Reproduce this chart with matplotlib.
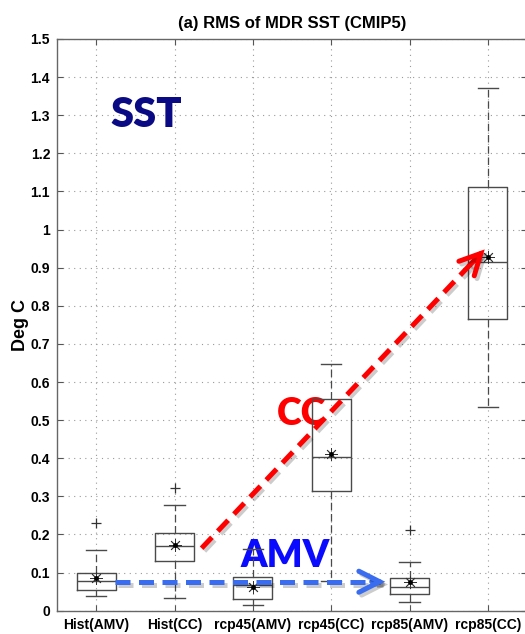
import matplotlib
matplotlib.use("Agg")
import matplotlib.pyplot as plt
import matplotlib.patheffects as pe
import numpy as np

# Ensemble RMS statistics of MDR SST per experiment (deg C)
labels = ['Hist(AMV)', 'Hist(CC)', 'rcp45(AMV)', 'rcp45(CC)', 'rcp85(AMV)', 'rcp85(CC)']
q1 = [0.053, 0.130, 0.032, 0.315, 0.044, 0.766]
medians = [0.077, 0.171, 0.068, 0.402, 0.063, 0.915]
q3 = [0.100, 0.205, 0.089, 0.556, 0.085, 1.112]
whisker_lo = [0.038, 0.033, 0.014, 0.077, 0.022, 0.534]
whisker_hi = [0.158, 0.277, 0.161, 0.648, 0.127, 1.372]
means = [0.087, 0.172, 0.063, 0.412, 0.074, 0.927]
outliers = [[0.230], [0.323], [], [], [0.211], []]

yticks = [0, 0.1, 0.2, 0.3, 0.4, 0.5, 0.6, 0.7, 0.8, 0.9, 1, 1.1, 1.2, 1.3, 1.4, 1.5]
ytick_labels = ['0', '0.1', '0.2', '0.3', '0.4', '0.5', '0.6', '0.7', '0.8', '0.9',
                '1', '1.1', '1.2', '1.3', '1.4', '1.5']

# Trend arrows (data coordinates: category position, deg C)
cc_arrow_start = (2.346, 0.164)
cc_arrow_end = (5.96, 0.948)
amv_arrow_start = (1.24, 0.076)
amv_arrow_end = (4.69, 0.076)

W, H = 525, 634
fig = plt.figure(figsize=(W / 100, H / 100), dpi=100)
fig.patch.set_facecolor('white')
ax = fig.add_axes([57 / W, (H - 610.7) / H, (527 - 57) / W, (610.7 - 39) / H])

positions = np.arange(1, len(labels) + 1)
stats = []
for i, lab in enumerate(labels):
    stats.append(dict(label=lab, q1=q1[i], med=medians[i], q3=q3[i],
                      whislo=whisker_lo[i], whishi=whisker_hi[i],
                      mean=means[i], fliers=outliers[i]))

edge = '#4a4a4a'
ax.bxp(stats, positions=positions, widths=0.5, capwidths=0.26,
       showmeans=True, patch_artist=False,
       boxprops=dict(color=edge, linewidth=1.0),
       medianprops=dict(color=edge, linewidth=1.0),
       whiskerprops=dict(color=edge, linewidth=0.9, linestyle=(0, (6, 3))),
       capprops=dict(color=edge, linewidth=1.0),
       flierprops=dict(marker='+', markeredgecolor='#333333', markersize=7,
                       markeredgewidth=0.9, linestyle='none'),
       meanprops=dict(marker=(8, 2, 0), markersize=9, markeredgecolor='#333333',
                      markerfacecolor='#333333', markeredgewidth=0.6, linestyle='none'),
       manage_ticks=False, zorder=2)
ax.plot(positions, means, linestyle='none', marker='o', markersize=2.5,
        color='black', zorder=2.1)

ax.set_xlim(0.5, 6.5)
ax.set_ylim(0, 1.5)
ax.set_xticks(positions)
ax.set_xticklabels(labels)
ax.set_yticks(yticks)
ax.set_yticklabels(ytick_labels)

for t in ax.get_xticklabels() + ax.get_yticklabels():
    t.set_fontfamily('Liberation Sans')
    t.set_fontweight('bold')
    t.set_fontsize(10)

ax.tick_params(axis='both', direction='in', length=4, width=0.8, color='#555555',
               top=True, right=True, pad=5)
ax.grid(True, color='#9a9a9a', linewidth=0.8, linestyle=(0, (1, 4)))
ax.set_axisbelow(True)
for s in ax.spines.values():
    s.set_color('#666666')
    s.set_linewidth(1.0)

ax.set_title('(a) RMS of MDR SST (CMIP5)', family='Liberation Sans',
             fontweight='bold', fontsize=12, pad=8)
ax.set_ylabel('Deg C', family='Liberation Sans', fontweight='bold',
              fontsize=13, labelpad=1)

# Annotation labels
ax.text(1.643, 1.269, 'SST', family='Lato', fontweight='heavy', fontsize=30,
        color='#0a0a85', ha='center', va='baseline', zorder=1.5)
ax.text(3.619, 0.487, 'CC', family='Lato', fontweight='heavy', fontsize=27,
        color='#ff0000', ha='center', va='baseline', zorder=1.5)
ax.text(3.414, 0.114, 'AMV', family='Lato', fontweight='heavy', fontsize=27,
        color='#0a0aff', ha='center', va='baseline', zorder=1.5)

shadow = [pe.SimpleLineShadow(offset=(2, -2), shadow_color='black', alpha=0.2),
          pe.Normal()]


def dashed_arrow(start, end, color):
    start = np.asarray(start, dtype=float)
    end = np.asarray(end, dtype=float)
    d = end - start
    shaft_end = end - 0.02 * d
    ax.plot([start[0], shaft_end[0]], [start[1], shaft_end[1]], color=color,
            linewidth=3.6, linestyle=(0, (3, 1.7)), dash_capstyle='butt',
            path_effects=shadow, zorder=3)
    back = end - 0.05 * d
    ax.annotate('', xy=tuple(end), xytext=tuple(back),
                arrowprops=dict(arrowstyle='->,head_length=0.75,head_width=0.38',
                                color=color, linewidth=3.6, shrinkA=0, shrinkB=0,
                                mutation_scale=20, joinstyle='miter',
                                path_effects=shadow),
                zorder=3)


dashed_arrow(cc_arrow_start, cc_arrow_end, '#ff0000')
dashed_arrow(amv_arrow_start, amv_arrow_end, '#3a6cf0')

fig.savefig('out.png', dpi=100, facecolor='white')
